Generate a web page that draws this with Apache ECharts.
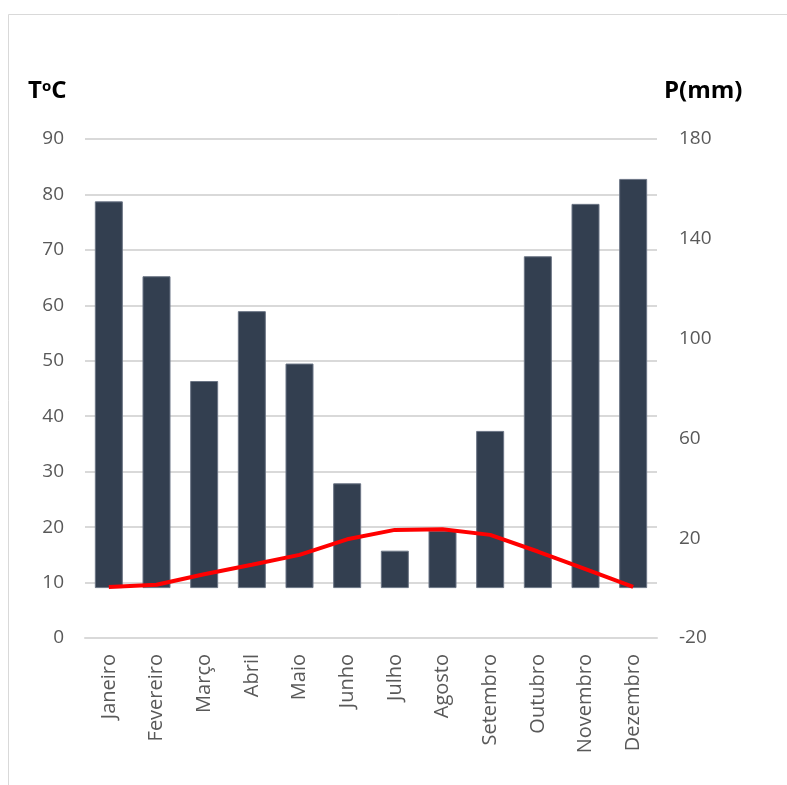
<!DOCTYPE html>
<html>
<head>
<meta charset="utf-8">
<script src="https://cdn.jsdelivr.net/npm/echarts@6/dist/echarts.min.js"></script>
<style>
  html, body { margin: 0; padding: 0; background: #fff; }
  #chart { width: 787px; height: 785px; }
</style>
</head>
<body>
<div id="chart"></div>
<script>
// Monthly climate data
const months = ['Janeiro', 'Fevereiro', 'Março', 'Abril', 'Maio', 'Junho',
                'Julho', 'Agosto', 'Setembro', 'Outubro', 'Novembro', 'Dezembro'];
// Precipitation (mm), right axis
const precipitation = [155, 125, 83, 111, 90, 42, 15, 23, 63, 133, 154, 164];
// Temperature (ºC), left axis
const temperature = [9.2, 9.6, 11.5, 13.2, 15.0, 17.8, 19.5, 19.6, 18.6, 15.6, 12.4, 9.2];

const tempAxis = { min: 0, max: 90, interval: 10 };
const precAxis = { min: -20, max: 180, interval: 40 };

const font = '"Open Sans", "Noto Sans", sans-serif';
const chart = echarts.init(document.getElementById('chart'));

chart.setOption({
  animation: false,
  backgroundColor: '#fff',
  grid: { left: 85, right: 130, top: 139, bottom: 147, containLabel: false },
  graphic: [
    {
      type: 'rect',
      shape: { x: 8.5, y: 14.5, width: 800, height: 800 },
      style: { fill: 'none', stroke: '#d9d9d9', lineWidth: 1 },
      silent: true
    },
    {
      type: 'text', left: 28, top: 79,
      style: {
        text: '{t|T}{s|o}{t|C}',
        rich: {
          t: { fontFamily: font, fontSize: 24, fontWeight: 'bold', fill: '#000' },
          s: { fontFamily: font, fontSize: 15, fontWeight: 'bold', fill: '#000', verticalAlign: 'top', padding: [0, 0, 8, 0] }
        }
      }
    },
    {
      type: 'text', left: 664, top: 79,
      style: { text: 'P(mm)', fontFamily: font, fontSize: 24, fontWeight: 'bold', fill: '#000' }
    }
  ],
  xAxis: {
    type: 'category',
    data: months,
    axisLine: { show: true, lineStyle: { color: '#d9d9d9', width: 2 } },
    axisTick: { show: false },
    axisLabel: { rotate: 90, color: '#595959', fontFamily: font, fontSize: 20, margin: 16, interval: 0 }
  },
  yAxis: [
    {
      type: 'value',
      min: tempAxis.min, max: tempAxis.max, interval: tempAxis.interval,
      axisLine: { show: false },
      axisTick: { show: false },
      splitLine: { lineStyle: { color: '#d9d9d9', width: 2 } },
      axisLabel: { color: '#595959', fontFamily: font, fontSize: 19, margin: 21 }
    },
    {
      type: 'value',
      position: 'right',
      min: precAxis.min, max: precAxis.max, interval: precAxis.interval,
      axisLine: { show: false },
      axisTick: { show: false },
      splitLine: { show: false },
      axisLabel: { color: '#595959', fontFamily: font, fontSize: 19, margin: 22 }
    }
  ],
  series: [
    {
      name: 'P(mm)',
      type: 'bar',
      yAxisIndex: 1,
      data: precipitation,
      barWidth: 28,
      itemStyle: { color: '#333f50', borderColor: '#6b7585', borderWidth: 1 }
    },
    {
      name: 'TºC',
      type: 'line',
      yAxisIndex: 0,
      data: temperature,
      symbol: 'none',
      lineStyle: { color: '#ff0000', width: 4 },
      z: 5
    }
  ]
});
</script>
</body>
</html>
